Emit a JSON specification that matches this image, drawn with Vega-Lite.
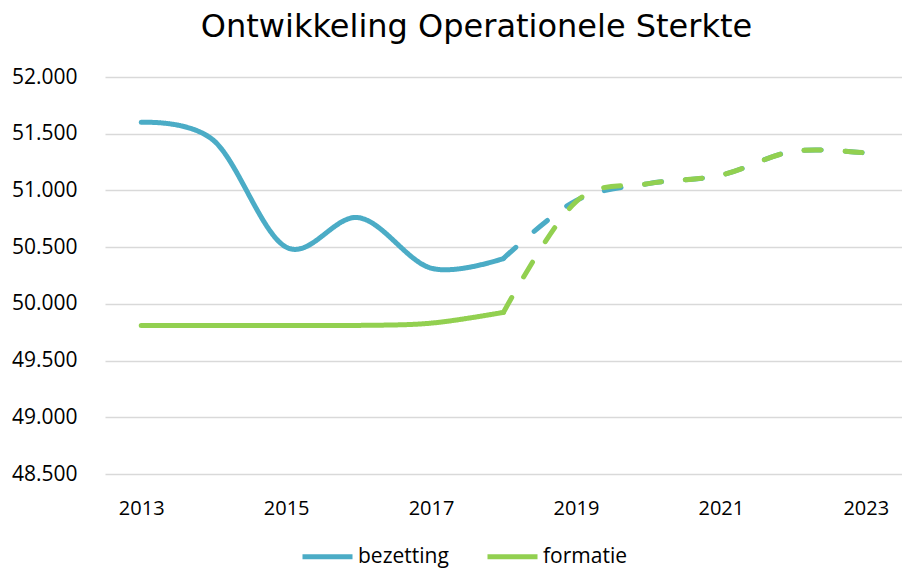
{
  "$schema": "https://vega.github.io/schema/vega-lite/v6.json",
  "autosize": {"type": "none"},
  "padding": {"left": 105, "top": 77, "right": 0, "bottom": 99},
  "width": 797,
  "height": 397,
  "background": "white",
  "config": {
    "locale": {"number": {"decimal": ",", "thousands": ".", "grouping": [3], "currency": ["€", ""]}},
    "view": {"stroke": null},
    "font": "Open Sans"
  },
  "title": {
    "text": "Ontwikkeling Operationele Sterkte",
    "font": "DejaVu Sans",
    "fontSize": 32,
    "fontWeight": "normal",
    "color": "#000000",
    "anchor": "middle",
    "dx": -27,
    "offset": 22
  },
  "data": {
    "values": [
      {"jaar": 2013, "waarde": 51600, "reeks": "bezetting", "deel": "realisatie"},
      {"jaar": 2014, "waarde": 51440, "reeks": "bezetting", "deel": "realisatie"},
      {"jaar": 2015, "waarde": 50500, "reeks": "bezetting", "deel": "realisatie"},
      {"jaar": 2016, "waarde": 50760, "reeks": "bezetting", "deel": "realisatie"},
      {"jaar": 2017, "waarde": 50315, "reeks": "bezetting", "deel": "realisatie"},
      {"jaar": 2018, "waarde": 50400, "reeks": "bezetting", "deel": "realisatie"},
      {"jaar": 2018, "waarde": 50400, "reeks": "bezetting", "deel": "prognose"},
      {"jaar": 2019, "waarde": 50910, "reeks": "bezetting", "deel": "prognose"},
      {"jaar": 2020, "waarde": 51060, "reeks": "bezetting", "deel": "prognose"},
      {"jaar": 2021, "waarde": 51135, "reeks": "bezetting", "deel": "prognose"},
      {"jaar": 2022, "waarde": 51345, "reeks": "bezetting", "deel": "prognose"},
      {"jaar": 2023, "waarde": 51330, "reeks": "bezetting", "deel": "prognose"},
      {"jaar": 2013, "waarde": 49810, "reeks": "formatie", "deel": "realisatie"},
      {"jaar": 2014, "waarde": 49810, "reeks": "formatie", "deel": "realisatie"},
      {"jaar": 2015, "waarde": 49810, "reeks": "formatie", "deel": "realisatie"},
      {"jaar": 2016, "waarde": 49810, "reeks": "formatie", "deel": "realisatie"},
      {"jaar": 2017, "waarde": 49830, "reeks": "formatie", "deel": "realisatie"},
      {"jaar": 2018, "waarde": 49925, "reeks": "formatie", "deel": "realisatie"},
      {"jaar": 2018, "waarde": 49925, "reeks": "formatie", "deel": "prognose"},
      {"jaar": 2019, "waarde": 50900, "reeks": "formatie", "deel": "prognose"},
      {"jaar": 2020, "waarde": 51060, "reeks": "formatie", "deel": "prognose"},
      {"jaar": 2021, "waarde": 51135, "reeks": "formatie", "deel": "prognose"},
      {"jaar": 2022, "waarde": 51345, "reeks": "formatie", "deel": "prognose"},
      {"jaar": 2023, "waarde": 51330, "reeks": "formatie", "deel": "prognose"}
    ]
  },
  "mark": {"type": "line", "interpolate": "cardinal", "strokeWidth": 5, "strokeCap": "round", "strokeJoin": "round"},
  "encoding": {
    "x": {
      "field": "jaar",
      "type": "quantitative",
      "scale": {"domain": [2012.5, 2023.5], "nice": false, "zero": false},
      "axis": {
        "title": null,
        "values": [2013, 2015, 2017, 2019, 2021, 2023],
        "format": "d",
        "grid": false,
        "domain": false,
        "ticks": false,
        "labelFontSize": 20,
        "labelColor": "#000000",
        "labelPadding": 24,
        "labelFont": "Open Sans"
      }
    },
    "y": {
      "field": "waarde",
      "type": "quantitative",
      "scale": {"domain": [48500, 52000], "nice": false, "zero": false},
      "axis": {
        "title": null,
        "values": [48500, 49000, 49500, 50000, 50500, 51000, 51500, 52000],
        "format": ",d",
        "grid": true,
        "gridColor": "#d9d9d9",
        "gridWidth": 1.3,
        "domain": false,
        "ticks": false,
        "labelFontSize": 21,
        "labelColor": "#000000",
        "labelPadding": 28,
        "labelFont": "Open Sans"
      }
    },
    "color": {
      "field": "reeks",
      "type": "nominal",
      "scale": {"domain": ["bezetting", "formatie"], "range": ["#4bacc6", "#92d050"]},
      "legend": {
        "title": null,
        "orient": "none",
        "legendX": 195,
        "legendY": 452,
        "direction": "horizontal",
        "symbolType": "stroke",
        "symbolStrokeWidth": 5,
        "symbolSize": 2500,
        "labelFontSize": 21,
        "labelColor": "#000000",
        "labelFont": "Open Sans",
        "columnPadding": 28,
        "labelOffset": 3
      }
    },
    "strokeDash": {
      "field": "deel",
      "type": "nominal",
      "scale": {"domain": ["realisatie", "prognose"], "range": [[1, 0], [17, 24]]},
      "legend": null
    },
    "order": {"field": "jaar", "type": "quantitative"}
  }
}
